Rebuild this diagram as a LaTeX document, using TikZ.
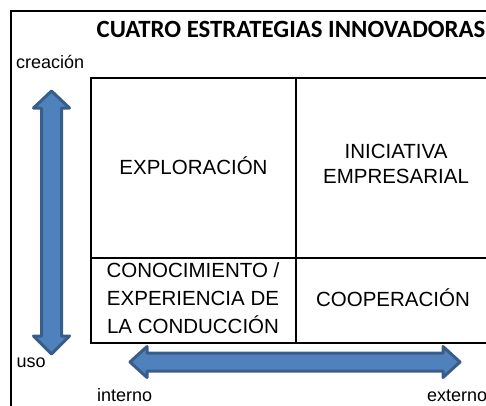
\documentclass[tikz,border=0pt]{standalone}
\usepackage{fontspec}
\setmainfont{Liberation Sans}
\newfontfamily\titlefont{Carlito}
\definecolor{arrowfill}{HTML}{4F81BD}
\definecolor{arrowline}{HTML}{385D8A}
\begin{document}
\begin{tikzpicture}[x=1pt,y=-1pt,
  frame/.style={line width=2pt},
  gridline/.style={line width=1.8pt},
  celltext/.style={font=\fontsize{20.5}{28}\selectfont, align=center, inner sep=0pt},
  axislabel/.style={font=\fontsize{18}{20}\selectfont, inner sep=0pt, anchor=base west},
  blockarrow/.style={fill=arrowfill, draw=arrowline, line width=3pt, line join=round}]
\useasboundingbox (0,0) rectangle (486,405);
\clip (0,0) rectangle (486,405);
% outer frame
\draw[frame] (11,420) -- (11,11) -- (500,11);
% title
\node[font=\titlefont\bfseries\fontsize{24.8}{28}\selectfont, anchor=base, inner sep=0pt] (title) at (291,37) {CUATRO ESTRATEGIAS INNOVADORAS};
% grid
\draw[gridline] (91,78) rectangle (496,343);
\draw[gridline] (296,78) -- (296,343);
\draw[gridline] (91,258) -- (496,258);
% cell texts
\node[celltext, anchor=base] (exp) at (193.5,174) {EXPLORACIÓN};
\node[celltext, font=\fontsize{20.5}{25}\selectfont] (ini) at (396,163.7) {INICIATIVA\\EMPRESARIAL};
\node[celltext] (con) at (193,298.6) {CONOCIMIENTO /\\EXPERIENCIA DE\\LA CONDUCCIÓN};
\node[celltext, anchor=base] (coop) at (393,306.5) {COOPERACIÓN};
% axis labels
\node[axislabel] (crea) at (16,68) {creación};
\node[axislabel] (uso) at (16.5,367) {uso};
\node[axislabel] (int) at (97,401) {interno};
\node[axislabel] (ext) at (427,401) {externo};
% vertical block arrow
\draw[blockarrow] (51.5,91) -- (69.5,108) -- (61.5,108) -- (61.5,336) -- (69.5,336)
  -- (51.5,354) -- (33.5,336) -- (41.5,336) -- (41.5,108) -- (33.5,108) -- cycle;
% horizontal block arrow
\draw[blockarrow] (130,362) -- (147,346.5) -- (147,353) -- (443,353) -- (443,346.5)
  -- (460,362) -- (443,377.5) -- (443,371) -- (147,371) -- (147,377.5) -- cycle;
\end{tikzpicture}
\end{document}
